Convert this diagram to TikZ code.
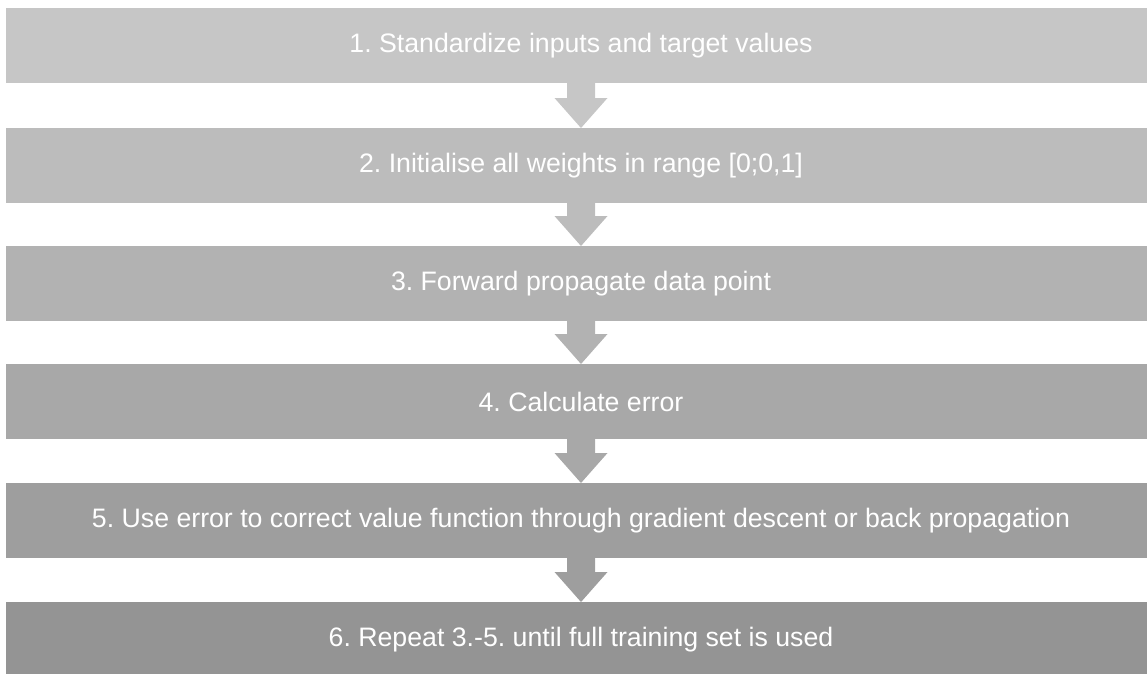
\documentclass[tikz,border=0pt]{standalone}
\usepackage{fontspec}
\setmainfont{Liberation Sans}
\usetikzlibrary{calc}
\frenchspacing

\definecolor{s1}{HTML}{C6C6C6}
\definecolor{s2}{HTML}{BCBCBC}
\definecolor{s3}{HTML}{B2B2B2}
\definecolor{s4}{HTML}{A8A8A8}
\definecolor{s5}{HTML}{9E9E9E}
\definecolor{s6}{HTML}{949494}

\tikzset{
  stepbox/.style={anchor=north west, inner sep=0pt, outer sep=0pt,
    minimum width=1150pt, minimum height=75pt, text=white,
    font=\fontsize{26.7}{30}\selectfont},
  % block arrow: stem from the lower edge of one box, head ending on the next
  flowarrow/.style args={#1/#2/#3}{insert path={
    let \p1=(#1.south), \p2=(#2.north) in
    [fill=#3] (\x1-14pt,\y1) -- (\x1+14pt,\y1) -- (\x1+14pt,\y2+30pt)
      -- (\x1+26.5pt,\y2+30pt) -- (\x1,\y2) -- (\x1-26.5pt,\y2+30pt)
      -- (\x1-14pt,\y2+30pt) -- cycle}}
}

\begin{document}
\begin{tikzpicture}[x=1pt,y=-1pt]
\useasboundingbox (0,0) rectangle (1147,673);

\node[stepbox, fill=s1] (b1) at (6,8)   {1. Standardize inputs and target values};
\node[stepbox, fill=s2] (b2) at (6,128) {2. Initialise all weights in range [0;0,1]};
\node[stepbox, fill=s3] (b3) at (6,246) {3. Forward propagate data point};
\node[stepbox, fill=s4] (b4) at (6,364) {4. Calculate error};
\node[stepbox, fill=s5] (b5) at (6,483) {5. Use error to correct value function through gradient descent or back propagation};
\node[stepbox, fill=s6] (b6) at (6,602) {6. Repeat 3.-5. until full training set is used};

\path[flowarrow=b1/b2/s1];
\path[flowarrow=b2/b3/s2];
\path[flowarrow=b3/b4/s3];
\path[flowarrow=b4/b5/s4];
\path[flowarrow=b5/b6/s5];
\end{tikzpicture}
\end{document}
